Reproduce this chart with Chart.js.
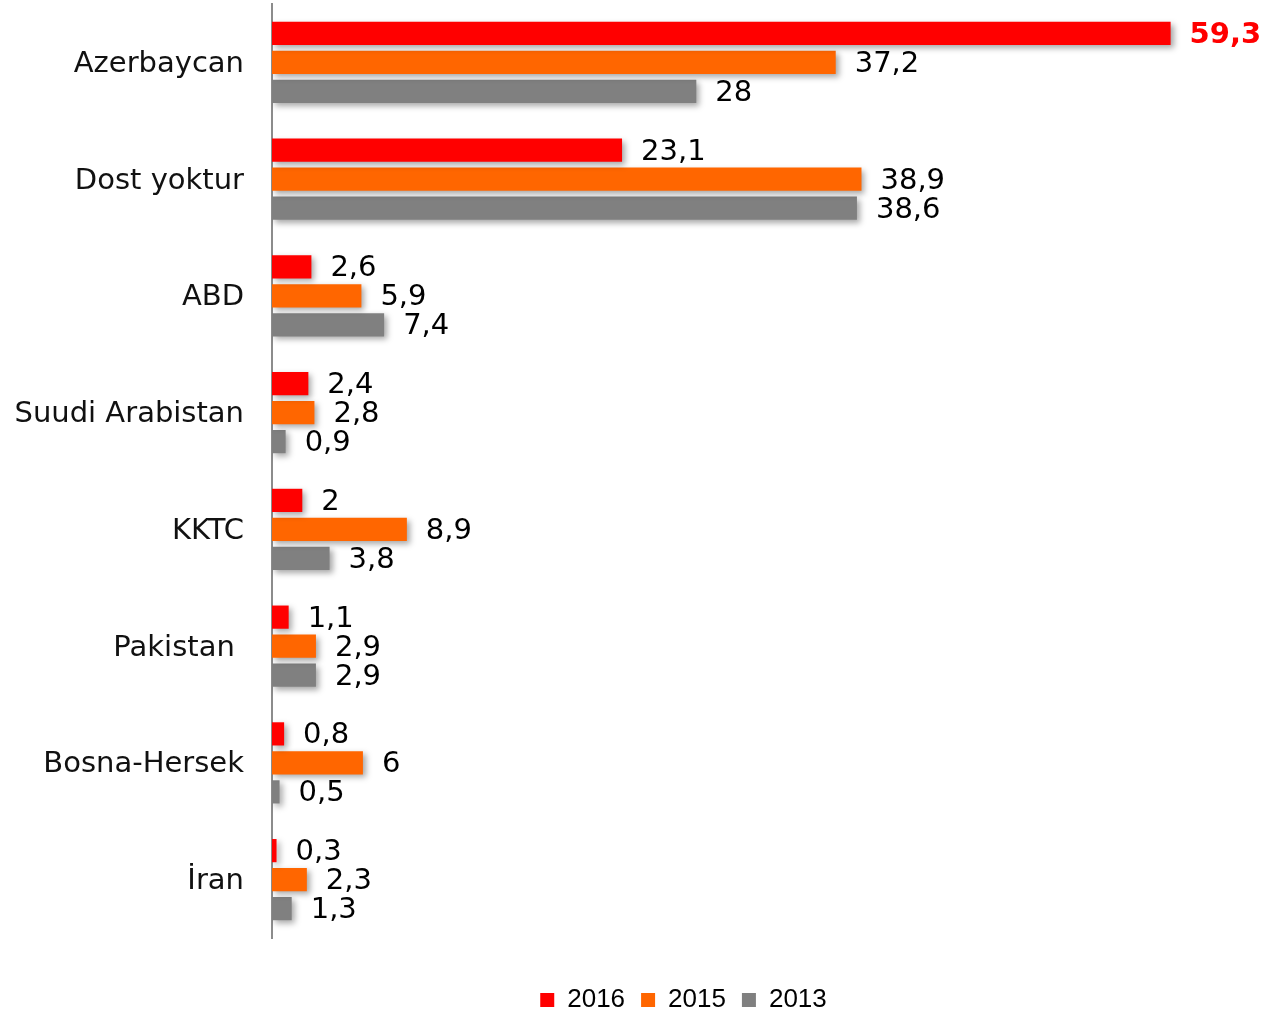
<!DOCTYPE html>
<html>
<head>
<meta charset="utf-8">
<script src="https://cdn.jsdelivr.net/npm/chart.js@4/dist/chart.umd.min.js"></script>
<style>
  html, body { margin: 0; padding: 0; background: #fff; overflow: hidden; }
  #wrap { width: 1270px; height: 1023px; position: relative; }
</style>
</head>
<body>
<div id="wrap"><canvas id="chart"></canvas></div>
<script>
const categories = ['Azerbaycan', 'Dost yoktur', 'ABD', 'Suudi Arabistan', 'KKTC', 'Pakistan ', 'Bosna-Hersek', 'İran'];
const seriesNames = ['2016', '2015', '2013'];
const values2016 = [59.3, 23.1, 2.6, 2.4, 2, 1.1, 0.8, 0.3];
const values2015 = [37.2, 38.9, 5.9, 2.8, 8.9, 2.9, 6, 2.3];
const values2013 = [28, 38.6, 7.4, 0.9, 3.8, 2.9, 0.5, 1.3];
const colors = ['#ff0000', '#ff6600', '#808080'];

// vurgulanan etiket (59,3)
const highlight = { dataset: 0, index: 0 };

const fmt = v => String(v).replace('.', ',');

// çubuk gölgesi
const shadowPlugin = {
  id: 'barShadow',
  beforeDatasetsDraw(chart) {
    const ctx = chart.ctx;
    ctx.save();
    ctx.shadowColor = 'rgba(0,0,0,0.35)';
    ctx.shadowBlur = 6;
    ctx.shadowOffsetX = 3;
    ctx.shadowOffsetY = 3;
  },
  afterDatasetsDraw(chart) {
    chart.ctx.restore();
  }
};

// lejantı grafik alanına göre biraz sağa kaydır
const legendShift = {
  id: 'legendShift',
  afterLayout(chart) {
    if (chart.legend) {
      chart.legend.left += 55;
      chart.legend.right += 55;
    }
  }
};

// değer etiketleri
const valueLabels = {
  id: 'valueLabels',
  afterDatasetsDraw(chart) {
    const ctx = chart.ctx;
    ctx.save();
    ctx.textBaseline = 'middle';
    ctx.textAlign = 'left';
    chart.data.datasets.forEach((ds, di) => {
      const meta = chart.getDatasetMeta(di);
      meta.data.forEach((bar, i) => {
        const hl = di === highlight.dataset && i === highlight.index;
        ctx.font = (hl ? 'bold ' : '') + '29px "DejaVu Sans"';
        ctx.fillStyle = hl ? '#ff0000' : '#000';
        ctx.fillText(fmt(ds.data[i]), bar.x + 19, bar.y + 2);
      });
    });
    ctx.restore();
  }
};

new Chart(document.getElementById('chart'), {
  type: 'bar',
  data: {
    labels: categories,
    datasets: [values2016, values2015, values2013].map((d, i) => ({
      label: seriesNames[i],
      data: d,
      backgroundColor: colors[i],
      borderWidth: 0,
      categoryPercentage: 0.745,
      barPercentage: 0.8
    }))
  },
  options: {
    indexAxis: 'y',
    responsive: true,
    maintainAspectRatio: false,
    animation: false,
    layout: { padding: { left: 0, right: 13, top: 4, bottom: 0 } },
    scales: {
      x: {
        min: 0,
        max: 65,
        ticks: { display: false },
        grid: { display: false },
        border: { display: false },
        afterFit(s) { s.height = 33; }
      },
      y: {
        grid: { display: false, drawTicks: false },
        border: { color: '#8c8c8c', width: 2 },
        ticks: {
          padding: 28,
          labelOffset: 2,
          color: '#111',
          font: { family: 'DejaVu Sans', size: 29 }
        },
        afterFit(s) {
          s.width = 272;
          s.paddingTop = 0;
          s.paddingBottom = 0;
        }
      }
    },
    plugins: {
      tooltip: { enabled: false },
      legend: {
        position: 'bottom',
        labels: {
          boxWidth: 14,
          boxHeight: 14,
          padding: 16,
          color: '#000',
          font: { family: 'Liberation Sans', size: 26 }
        }
      }
    }
  },
  plugins: [shadowPlugin, legendShift, valueLabels]
});
</script>
</body>
</html>
